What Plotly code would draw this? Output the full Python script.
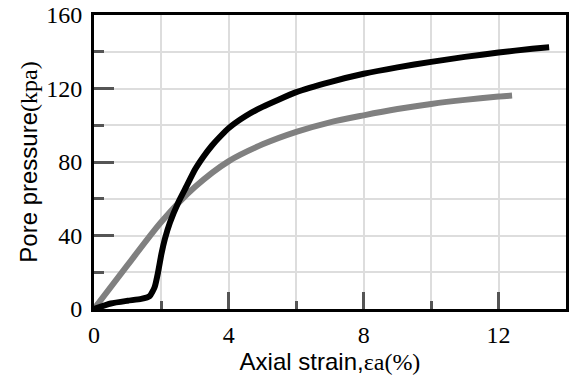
import plotly.graph_objects as go

# Black curve: pore pressure vs axial strain (sample A)
strain_a = [0, 0.5, 1.0, 1.4, 1.65, 1.8, 1.9, 2.0, 2.1, 2.25, 2.5, 2.75, 3.0, 3.25, 3.5, 3.75, 4.0, 4.5, 5.0, 6.0, 7.0, 8.0, 9.0, 10.0, 11.0, 12.0, 13.0, 13.5]
pore_a = [0, 3, 4.5, 5.5, 7.0, 12, 20, 30, 38, 47, 58, 67, 76, 83, 89, 94, 98.5, 105, 110, 118, 123.5, 128, 131.5, 134.5, 137.2, 139.6, 141.6, 142.4]

# Grey curve: pore pressure vs axial strain (sample B)
strain_b = [0, 1.0, 2.0, 3.0, 4.0, 5.0, 6.0, 7.0, 8.0, 9.0, 10.0, 11.0, 12.0, 12.4]
pore_b = [0, 24, 47.5, 66.5, 80.5, 89.6, 96.4, 101.6, 105.4, 108.8, 111.6, 113.8, 115.6, 116.2]

x_ticks = [0, 4, 8, 12]
y_ticks = [0, 40, 80, 120, 160]

fig = go.Figure()
fig.add_trace(go.Scatter(x=strain_b, y=pore_b, mode="lines",
                         line=dict(color="#808080", width=6, shape="spline", smoothing=0.8),
                         showlegend=False))
fig.add_trace(go.Scatter(x=strain_a, y=pore_a, mode="lines",
                         line=dict(color="#000000", width=6, shape="spline", smoothing=0.5),
                         showlegend=False))

serif = "Liberation Serif"
sans = "Liberation Sans"

fig.update_layout(
    width=571, height=376,
    margin=dict(l=94, r=2, t=13, b=67),
    paper_bgcolor="white", plot_bgcolor="white",
    font=dict(family=serif, size=24, color="black"),
)
fig.update_xaxes(
    range=[0, 14], tickmode="array", tickvals=x_ticks, ticktext=[str(v) for v in x_ticks],
    ticks="inside", ticklen=17, tickwidth=3, tickcolor="#555555",
    showgrid=True, gridcolor="#dddddd", gridwidth=1.5,
    minor=dict(dtick=2, tick0=0, ticks="inside", ticklen=8, tickwidth=3,
               tickcolor="#555555", showgrid=True, gridcolor="#dddddd", gridwidth=1.5),
    showline=True, linecolor="black", linewidth=3, mirror=True,
    tickfont=dict(family=serif, size=24, color="black"), ticklabelstandoff=2,
    title_text="Axial strain,<span style='font-family:Liberation Serif'>εa(%)</span>",
    title_font=dict(family=sans, size=24, color="black"), title_standoff=2,
    zeroline=False,
)
fig.update_yaxes(
    range=[0, 160], tickmode="array", tickvals=y_ticks, ticktext=[str(v) for v in y_ticks],
    ticks="inside", ticklen=20, tickwidth=3, tickcolor="#555555",
    showgrid=True, gridcolor="#dddddd", gridwidth=1.5,
    minor=dict(dtick=20, tick0=0, ticks="inside", ticklen=10, tickwidth=3,
               tickcolor="#555555", showgrid=True, gridcolor="#dddddd", gridwidth=1.5),
    showline=True, linecolor="black", linewidth=3, mirror=True,
    tickfont=dict(family=serif, size=24, color="black"), ticklabelstandoff=4,
    title_text="Pore pressure<span style='font-family:Liberation Serif'>(kpa)</span>",
    title_font=dict(family=sans, size=24, color="black"), title_standoff=2,
    zeroline=False,
)

fig.write_html("out.html")
